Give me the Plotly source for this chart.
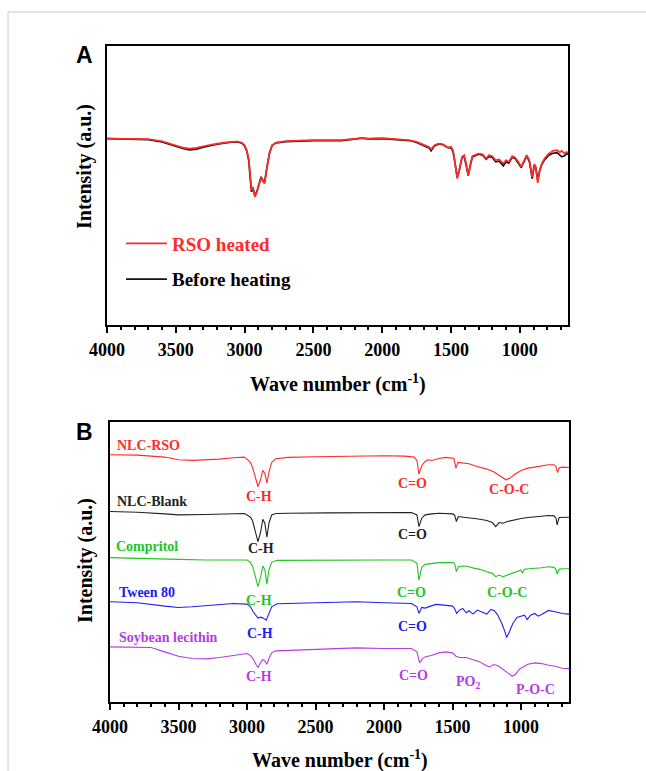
import plotly.graph_objects as go

# ---------------- Panel A data ----------------
wn_a = [4000, 3800, 3700, 3600, 3500, 3450, 3400, 3350, 3300, 3200, 3100, 3050, 3020, 3000,
        2985, 2970, 2960, 2950, 2940, 2925, 2910, 2895, 2880, 2865, 2855, 2840, 2820, 2800,
        2770, 2700, 2600, 2500, 2400, 2300, 2200, 2150, 2100, 2000, 1900, 1800, 1750, 1700,
        1660, 1645, 1620, 1590, 1560, 1530, 1515, 1500, 1485, 1470, 1455, 1440, 1420, 1405,
        1390, 1375, 1360, 1345, 1300, 1270, 1245, 1225, 1200, 1175, 1150, 1120, 1100, 1080,
        1055, 1035, 1010, 990, 970, 950, 930, 910, 895, 885, 870, 855, 840, 820, 790, 760,
        730, 710, 695, 675, 660, 650]
rso_heated = [56.0, 55.9, 55.8, 55.2, 54.0, 53.3, 53.0, 53.2, 53.7, 54.5, 55.0, 55.1, 54.7, 54.0,
              52.5, 50.0, 45.5, 40.5, 41.5, 38.5, 40.0, 42.5, 44.3, 43.0, 42.5, 46.5, 51.5, 54.0,
              54.8, 55.2, 55.4, 55.5, 55.5, 55.5, 55.9, 56.2, 56.0, 56.1, 55.8, 55.5, 55.0, 54.2,
              53.5, 52.8, 54.0, 54.5, 54.3, 53.5, 53.3, 53.5, 52.3, 48.5, 44.0, 46.5, 50.5, 51.0,
              48.5, 44.8, 48.0, 50.7, 51.5, 51.3, 50.0, 51.0, 50.7, 49.5, 49.7, 48.5, 49.5, 49.0,
              50.7, 50.3, 49.0, 47.5, 49.3, 51.0, 49.3, 44.5, 48.3, 47.5, 42.7, 46.5, 48.5, 50.0,
              51.5, 52.3, 52.5, 51.9, 52.3, 51.5, 52.0, 51.5]
before_heating = [56.0, 55.9, 55.7, 55.0, 53.7, 53.0, 52.6, 52.8, 53.4, 54.3, 54.9, 55.0, 54.6, 53.8,
                  52.3, 49.5, 44.5, 40.0, 41.2, 38.8, 40.2, 42.7, 44.5, 43.2, 42.8, 46.8, 51.5, 54.0,
                  54.7, 55.1, 55.3, 55.4, 55.4, 55.4, 55.8, 56.1, 55.9, 56.0, 55.7, 55.4, 54.8, 54.0,
                  53.2, 52.3, 53.8, 54.4, 54.2, 53.4, 53.2, 53.3, 52.0, 48.3, 44.3, 46.5, 50.3, 50.8,
                  48.3, 45.0, 48.0, 50.5, 51.3, 51.0, 49.8, 50.6, 50.3, 49.0, 49.2, 47.8, 49.0, 48.6,
                  50.4, 50.0, 48.6, 47.3, 49.0, 50.8, 49.0, 44.0, 48.0, 47.5, 43.5, 46.5, 48.3, 49.6,
                  51.0, 51.6, 51.8, 51.0, 50.5, 50.8, 51.5, 51.3]

# ---------------- Panel B data ----------------
wn_rso = [4000, 3800, 3600, 3500, 3400, 3300, 3200, 3100, 3020, 3000, 2975, 2960, 2945, 2920,
          2900, 2885, 2870, 2855, 2840, 2820, 2790, 2700, 2500, 2300, 2100, 2000, 1850, 1780,
          1760, 1745, 1725, 1700, 1680, 1650, 1600, 1550, 1490, 1475, 1460, 1420, 1380, 1340,
          1300, 1250, 1200, 1150, 1110, 1080, 1050, 1000, 950, 900, 850, 800, 760, 745, 735,
          720, 700, 650]
nlc_rso = [74.0, 73.9, 73.3, 72.5, 72.3, 72.4, 72.7, 73.1, 73.3, 72.7, 71.7, 70.3, 68.0, 64.5,
           66.7, 69.3, 68.5, 65.5, 68.7, 71.7, 72.8, 73.2, 73.4, 73.6, 73.7, 73.7, 73.6, 73.3,
           72.3, 68.2, 70.7, 72.0, 72.5, 72.3, 72.9, 73.2, 72.9, 70.0, 71.7, 71.5, 71.3, 70.7,
           70.3, 69.7, 68.9, 67.7, 66.5, 67.0, 68.0, 69.3, 70.0, 70.3, 70.7, 71.0, 71.0, 70.5, 68.7,
           70.1, 70.3, 70.2]

wn_blank = [4000, 3800, 3600, 3500, 3300, 3100, 3020, 3000, 2975, 2960, 2945, 2920, 2900, 2885,
            2870, 2855, 2840, 2820, 2790, 2700, 2400, 2000, 1800, 1760, 1745, 1725, 1700, 1650,
            1600, 1500, 1485, 1472, 1458, 1420, 1380, 1340, 1300, 1250, 1210, 1185, 1160, 1130,
            1100, 1050, 1000, 950, 900, 850, 800, 760, 745, 737, 722, 700, 650]
nlc_blank = [57.0, 56.8, 56.3, 56.0, 56.1, 56.3, 56.4, 56.0, 55.3, 54.3, 51.7, 48.0, 51.0, 54.7,
             53.5, 49.3, 53.5, 56.0, 56.4, 56.5, 56.6, 56.7, 56.7, 56.0, 52.5, 55.0, 56.0, 56.3,
             56.5, 56.3, 56.0, 54.0, 55.5, 55.3, 55.2, 54.9, 54.7, 54.3, 53.7, 52.5, 53.7, 53.5,
             54.0, 54.5, 54.9, 55.2, 55.5, 55.6, 55.8, 55.7, 55.0, 53.0, 55.2, 55.3, 55.3]

wn_comp = [4000, 3700, 3500, 3300, 3100, 3000, 2980, 2960, 2945, 2920, 2900, 2885, 2870, 2855,
           2840, 2820, 2780, 2500, 2200, 2000, 1800, 1760, 1745, 1725, 1700, 1650, 1600, 1500,
           1485, 1472, 1458, 1420, 1380, 1340, 1300, 1250, 1210, 1185, 1160, 1130, 1100, 1060,
           1020, 1000, 990, 975, 940, 900, 850, 800, 760, 745, 737, 722, 700, 650]
compritol = [43.2, 43.0, 42.7, 42.5, 42.5, 42.5, 42.0, 40.7, 38.5, 34.5, 37.5, 40.7, 39.7, 35.3,
             39.5, 41.8, 42.4, 42.5, 42.6, 42.5, 42.5, 41.5, 36.5, 40.3, 41.2, 41.5, 41.7, 41.7,
             41.5, 39.0, 40.5, 40.7, 40.5, 40.0, 39.7, 39.0, 38.5, 37.5, 38.0, 37.5, 38.0, 38.7,
             39.2, 39.5, 38.5, 39.7, 39.9, 40.0, 40.2, 40.5, 40.3, 39.7, 38.3, 39.7, 39.9, 39.9]

wn_tween = [4000, 3800, 3600, 3500, 3400, 3300, 3200, 3100, 3000, 2975, 2955, 2935, 2920, 2900,
            2880, 2860, 2840, 2820, 2780, 2500, 2200, 2000, 1800, 1760, 1745, 1725, 1700, 1660,
            1620, 1560, 1500, 1485, 1470, 1450, 1425, 1400, 1380, 1350, 1320, 1290, 1250, 1220,
            1195, 1170, 1140, 1120, 1105, 1085, 1060, 1030, 1000, 975, 955, 930, 900, 875, 850,
            800, 750, 700, 650]
tween80 = [30.0, 29.7, 28.7, 28.3, 28.5, 28.9, 29.3, 29.5, 29.3, 28.5, 27.0, 25.7, 25.1, 25.4,
           25.1, 24.5, 26.5, 28.5, 29.4, 29.7, 30.0, 29.7, 29.5, 28.5, 26.5, 28.3, 28.1, 28.7,
           29.2, 29.0, 28.7, 28.0, 26.5, 27.5, 28.0, 26.7, 27.3, 26.3, 27.5, 27.0, 26.3, 27.7,
           27.3, 26.0, 23.5, 21.3, 19.3, 21.0, 23.5, 25.3, 25.8, 26.0, 24.7, 26.0, 26.5, 25.7, 26.2,
           27.4, 27.0, 26.5, 26.3]

wn_soy = [4000, 3700, 3600, 3500, 3400, 3300, 3200, 3100, 3000, 2975, 2955, 2935, 2920, 2900,
          2885, 2870, 2855, 2840, 2820, 2790, 2500, 2200, 2000, 1800, 1760, 1740, 1720, 1700,
          1650, 1600, 1550, 1500, 1475, 1450, 1400, 1350, 1300, 1260, 1230, 1200, 1175, 1150,
          1120, 1090, 1065, 1040, 1010, 980, 950, 900, 850, 800, 750, 700, 650]
soy_lecithin = [16.5, 16.3, 15.0, 13.7, 13.0, 12.9, 13.3, 14.0, 14.5, 13.9, 12.9, 11.3, 10.3, 11.9,
                12.7, 12.3, 11.3, 13.0, 14.7, 15.3, 15.7, 16.2, 16.0, 16.0, 15.0, 11.7, 13.0, 13.5,
                14.0, 14.7, 15.0, 14.7, 13.7, 13.3, 13.3, 12.7, 12.0, 11.0, 10.5, 11.2, 10.9, 10.3,
                9.5, 8.5, 7.7, 8.3, 9.9, 10.7, 11.3, 11.7, 11.5, 11.0, 10.7, 10.1, 10.0]

tick_vals = [4000, 3500, 3000, 2500, 2000, 1500, 1000]
tick_text = ["4000", "3500", "3000", "2500", "2000", "1500", "1000"]

# labels: (text, wavenumber, value, color, anchor)
series_labels = [
    ("NLC-RSO", 3963, 76.7, "#ff2a2a", "left"),
    ("NLC-Blank", 3963, 59.9, "#222222", "left"),
    ("Compritol", 3971, 46.4, "#22c422", "left"),
    ("Tween 80", 3949, 32.8, "#2020ee", "left"),
    ("Soybean lecithin", 3949, 19.4, "#b43ce6", "left"),
]
peak_labels = [
    ("C-H", 2911, 61.4, "#ff2a2a"), ("C=O", 1792, 65.3, "#ff2a2a"), ("C-O-C", 1091, 63.5, "#ff2a2a"),
    ("C=O", 1792, 50.0, "#222222"), ("C-H", 2896, 45.8, "#222222"),
    ("C-H", 2911, 30.4, "#22c422"), ("C=O", 1800, 32.8, "#22c422"), ("C-O-C", 1105, 32.8, "#22c422"),
    ("C-H", 2904, 20.5, "#2020ee"), ("C=O", 1792, 22.6, "#2020ee"),
    ("C-H", 2911, 7.7, "#b43ce6"), ("C=O", 1785, 8.0, "#b43ce6"),
    ("PO<sub>2</sub>", 1390, 5.9, "#b43ce6"), ("P-O-C", 893, 3.8, "#b43ce6"),
]

SERIF = "Liberation Serif"
W, H = 646, 771

fig = go.Figure()
fig.add_trace(go.Scatter(x=wn_a, y=before_heating, mode="lines", xaxis="x", yaxis="y",
                         line=dict(color="#111111", width=1.7),
                         name="Before heating", legendrank=2, legendgroup="b"))
fig.add_trace(go.Scatter(x=wn_a, y=rso_heated, mode="lines", xaxis="x", yaxis="y",
                         line=dict(color="#ff2a2a", width=1.7),
                         name='<span style="color:#ff2a2a">RSO heated</span>', legendrank=1,
                         legendgroup="a"))

for xs, ys, col in [(wn_rso, nlc_rso, "#ff2a2a"), (wn_blank, nlc_blank, "#222222"),
                    (wn_comp, compritol, "#22c422"), (wn_tween, tween80, "#2020ee"),
                    (wn_soy, soy_lecithin, "#b43ce6")]:
    fig.add_trace(go.Scatter(x=xs, y=ys, mode="lines", xaxis="x2", yaxis="y2",
                             line=dict(color=col, width=1.1), showlegend=False))

def xax(domain, anchor):
    return dict(domain=domain, anchor=anchor, range=[4000, 650], showgrid=False, zeroline=False,
                showline=True, linecolor="black", linewidth=2, mirror=True, automargin=False,
                ticks="outside", ticklen=6, tickwidth=2, tickcolor="black",
                tickvals=tick_vals, ticktext=tick_text, ticklabelstandoff=1,
                tickfont=dict(family=SERIF, size=18, color="black", weight="bold"),
                minor=dict(dtick=100, tick0=0, ticks="outside", ticklen=3, tickwidth=2,
                           tickcolor="black", showgrid=False))

def yax(domain, anchor):
    return dict(domain=domain, anchor=anchor, range=[0, 83.8], showgrid=False, zeroline=False,
                showline=True, linecolor="black", linewidth=2, mirror=True, automargin=False,
                ticks="", showticklabels=False)

annotations = []
def pann(text, px, py, size, angle=0, family=SERIF, color="black"):
    annotations.append(dict(text=text, x=px / W, y=1 - py / H, xref="paper", yref="paper",
                            showarrow=False, textangle=angle, xanchor="center", yanchor="middle",
                            font=dict(family=family, size=size, color=color, weight="bold")))

pann("A", 84, 55, 23, family="Liberation Sans")
pann("B", 84, 432, 23, family="Liberation Sans")
pann("Intensity (a.u.)", 84, 167, 20, angle=-90)
pann("Intensity (a.u.)", 85, 561, 20, angle=-90)
pann("Wave number (cm<sup>-1</sup>)", 338, 383, 20)
pann("Wave number (cm<sup>-1</sup>)", 340, 759, 20)

for t, x, y, c, a in series_labels:
    annotations.append(dict(text=t, x=x, y=y, xref="x2", yref="y2", showarrow=False,
                            xanchor=a, yanchor="middle",
                            font=dict(family=SERIF, size=14, color=c, weight="bold")))
for t, x, y, c in peak_labels:
    annotations.append(dict(text=t, x=x, y=y, xref="x2", yref="y2", showarrow=False,
                            xanchor="center", yanchor="middle",
                            font=dict(family=SERIF, size=14, color=c, weight="bold")))

shapes = [
    dict(type="line", xref="paper", yref="paper", x0=8 / W, x1=1, y0=1 - 12 / H, y1=1 - 12 / H,
         line=dict(color="#cccccc", width=1)),
    dict(type="line", xref="paper", yref="paper", x0=8 / W, x1=8 / W, y0=0, y1=1 - 12 / H,
         line=dict(color="#cccccc", width=1)),
]

fig.update_layout(
    width=W, height=H, margin=dict(l=0, r=0, t=0, b=0, autoexpand=False),
    paper_bgcolor="white", plot_bgcolor="white",
    xaxis=xax([107 / W, 568 / W], "y"),
    yaxis=yax([1 - 325 / H, 1 - 46 / H], "x"),
    xaxis2=xax([110 / W, 569 / W], "y2"),
    yaxis2=yax([1 - 702 / H, 1 - 422 / H], "x2"),
    annotations=annotations, shapes=shapes,
    showlegend=True,
    legend=dict(x=121 / W, y=1 - 261.5 / H, xanchor="left", yanchor="middle",
                traceorder="grouped", tracegroupgap=8, itemwidth=41, bgcolor="rgba(0,0,0,0)",
                font=dict(family=SERIF, size=19, color="black", weight="bold")),
)

fig.write_html("out.html")
